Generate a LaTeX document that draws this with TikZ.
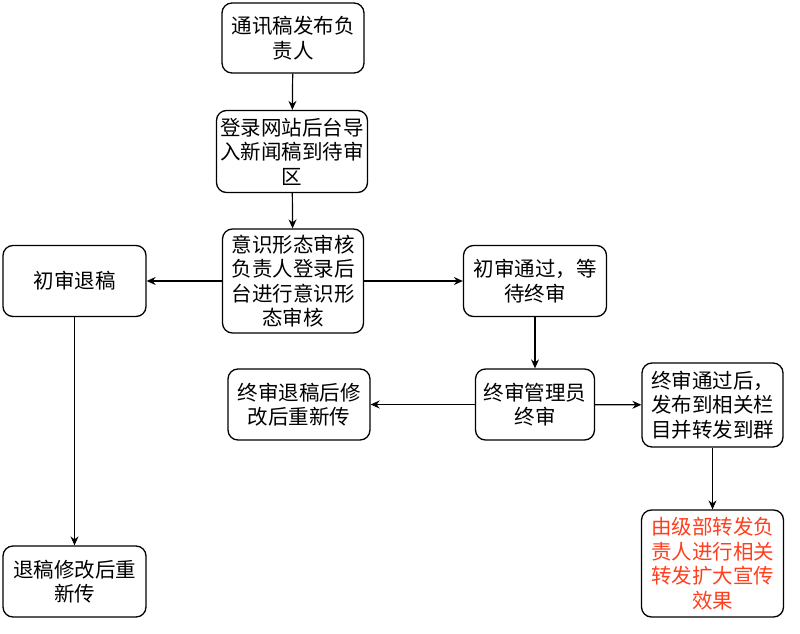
\documentclass[tikz,border=0pt]{standalone}
\usepackage{fontspec}
\setmainfont{Noto Sans CJK SC}
\usetikzlibrary{arrows.meta}
\definecolor{hot}{RGB}{255,62,30}
\begin{document}
\begin{tikzpicture}[x=1pt,y=-1pt,
    box/.style={draw,line width=1.3pt,rounded corners=10pt,align=center,
      inner sep=0pt,font=\fontsize{20.5}{24.5}\selectfont}]
      \useasboundingbox (0,0) rectangle (800,634);
      \draw
        (293,38) node[box,minimum width=142,minimum height=70] (1){通讯稿发布负\\责人}
        (292,151.5) node[box,minimum width=151,minimum height=82] (2){登录网站后台导\\入新闻稿到待审\\区}
        (293,281) node[box,minimum width=141,minimum height=104] (3){意识形态审核\\负责人登录后\\台进行意识形\\态审核}
        (74.5,281) node[box,minimum width=143,minimum height=71] (4){初审退稿}
        (535,281) node[box,minimum width=143,minimum height=71] (5){初审通过，等\\待终审}
        (535,404.5) node[box,minimum width=119,minimum height=71] (6){终审管理员\\终审}
        (299,404.5) node[box,minimum width=142,minimum height=71] (7){终审退稿后修\\改后重新传}
        (712.5,405) node[box,minimum width=141,minimum height=84] (8){终审通过后，\\发布到相关栏\\目并转发到群}
        (712.5,563.5) node[box,minimum width=142,minimum height=107,text=hot] (9){由级部转发负\\责人进行相关\\转发扩大宣传\\效果}
        (74.5,581.5) node[box,minimum width=143,minimum height=71] (10){退稿修改后重\\新传};
      \begin{scope}[line width=1.2pt,-{Stealth[length=9pt,width=8pt,inset=3pt]}]
        \draw (1) to (2);
        \draw (2) to (3);
        \draw (3) to (4);
        \draw (3) to (5);
        \draw (5) to (6);
        \draw (6) to (7);
        \draw (6) to (8);
        \draw (4) to (10);
        \draw (8) to (9);
      \end{scope}
    \end{tikzpicture}
\end{document}
